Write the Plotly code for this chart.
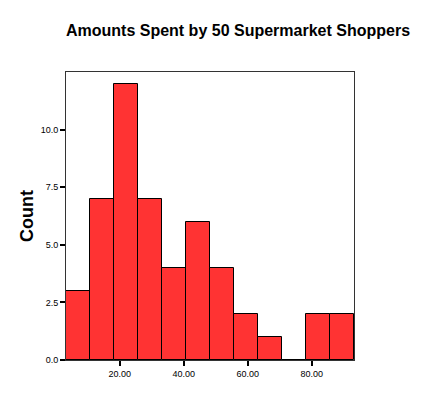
import plotly.graph_objects as go

bin_start = 3.2
bin_width = 7.5
counts = [3, 7, 12, 7, 4, 6, 4, 2, 1, 0, 2, 2]
x_ticks = [20, 40, 60, 80]
x_tick_labels = ["20.00", "40.00", "60.00", "80.00"]
y_ticks = [0, 2.5, 5, 7.5, 10]
y_tick_labels = ["0.0", "2.5", "5.0", "7.5", "10.0"]

centers = [bin_start + bin_width * (i + 0.5) for i in range(len(counts))]

W, H = 427, 386  # page body has an 8px margin

fig = go.Figure(go.Bar(
    x=centers, y=counts, width=[bin_width] * len(counts),
    marker=dict(color="#FF3333", line=dict(color="#000000", width=1)),
))

fig.update_layout(
    width=W, height=H,
    margin=dict(l=58, r=81, t=64, b=34, autoexpand=False),
    paper_bgcolor="white", plot_bgcolor="white",
    showlegend=False,
    font=dict(family="Liberation Sans, Arial", color="black"),
    title=dict(text="<b>Amounts Spent by 50 Supermarket Shoppers</b>",
               x=230 / W, xanchor="center", xref="container",
               y=1 - 22 / H, yanchor="middle", yref="container",
               font=dict(size=16, color="black")),
    bargap=0,
)

fig.update_xaxes(
    range=[bin_start, bin_start + bin_width * len(counts)],
    tickvals=x_ticks, ticktext=x_tick_labels,
    ticks="outside", ticklen=5, tickwidth=2, tickcolor="black",
    showline=True, linecolor="#333333", linewidth=1, mirror=True,
    showgrid=False, zeroline=False,
    tickfont=dict(size=9),
)
fig.update_yaxes(
    range=[0, 12.5],
    tickvals=y_ticks, ticktext=y_tick_labels,
    ticks="outside", ticklen=5, tickwidth=2, tickcolor="black",
    showline=True, linecolor="#333333", linewidth=1, mirror=True,
    showgrid=False, zeroline=False,
    tickfont=dict(size=9),
    title=dict(text="<b>Count</b>", font=dict(size=18), standoff=2),
)

fig.write_html("out.html")
